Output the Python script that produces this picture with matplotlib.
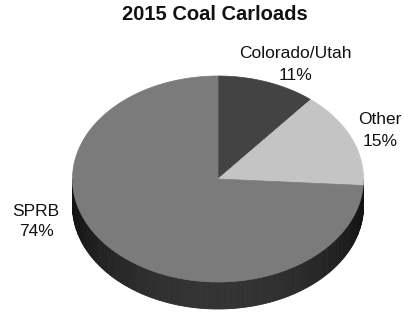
import numpy as np
import matplotlib.pyplot as plt
from matplotlib.patches import Polygon

plt.rcParams['font.family'] = ['Liberation Sans', 'DejaVu Sans']

# Data
labels = ['Colorado/Utah', 'Other', 'SPRB']
shares = [11, 15, 74]
colors = ['#434343', '#c4c4c4', '#7b7b7b']

# pie geometry in pixel coords
cx, cy = 218, 179
a, b = 145.5, 103
depth = 27

fig = plt.figure(figsize=(4.03, 3.15), dpi=100)
ax = fig.add_axes([0, 0, 1, 1])
ax.set_xlim(0, 403)
ax.set_ylim(315, 0)
ax.axis('off')


def pt(t, dy=0):
    return cx + a * np.cos(t), cy - b * np.sin(t) + dy


# side wall (front half only), shaded strips
ts = np.linspace(np.pi, 2 * np.pi, 181)
for t0, t1 in zip(ts[:-1], ts[1:]):
    tm = 0.5 * (t0 + t1)
    shade = 0.07 + 0.13 * np.sin(-tm) ** 1.5
    x0, y0 = pt(t0)
    x1, y1 = pt(t1)
    quad = [(x0, y0), (x1, y1), (x1, y1 + depth), (x0, y0 + depth)]
    ax.add_patch(Polygon(quad, closed=True, fc=(shade,) * 3, ec=(shade,) * 3, lw=0.6))

# top face, clockwise from 12 o'clock
start = np.pi / 2
fracs = np.array(shares) / sum(shares)
for frac, col in zip(fracs, colors):
    end = start - frac * 2 * np.pi
    tt = np.linspace(start, end, 200)
    xs, ys = pt(tt)
    poly = [(cx, cy)] + list(zip(xs, ys))
    ax.add_patch(Polygon(poly, closed=True, fc=col, ec=col, lw=0.5))
    start = end

ax.text(215, 15, '2015 Coal Carloads', ha='center', va='center',
        fontsize=14.5, fontweight='bold', color='#111111')

label_pos = [(295, 54, 75), (380, 120, 141), (36, 212, 232)]
for lab, val, (x, y1, y2) in zip(labels, shares, label_pos):
    ax.text(x, y1, lab, ha='center', va='center', fontsize=12.5, color='#111111')
    ax.text(x, y2, f'{val}%', ha='center', va='center', fontsize=12.5, color='#111111')

fig.savefig('out.png', dpi=100)
